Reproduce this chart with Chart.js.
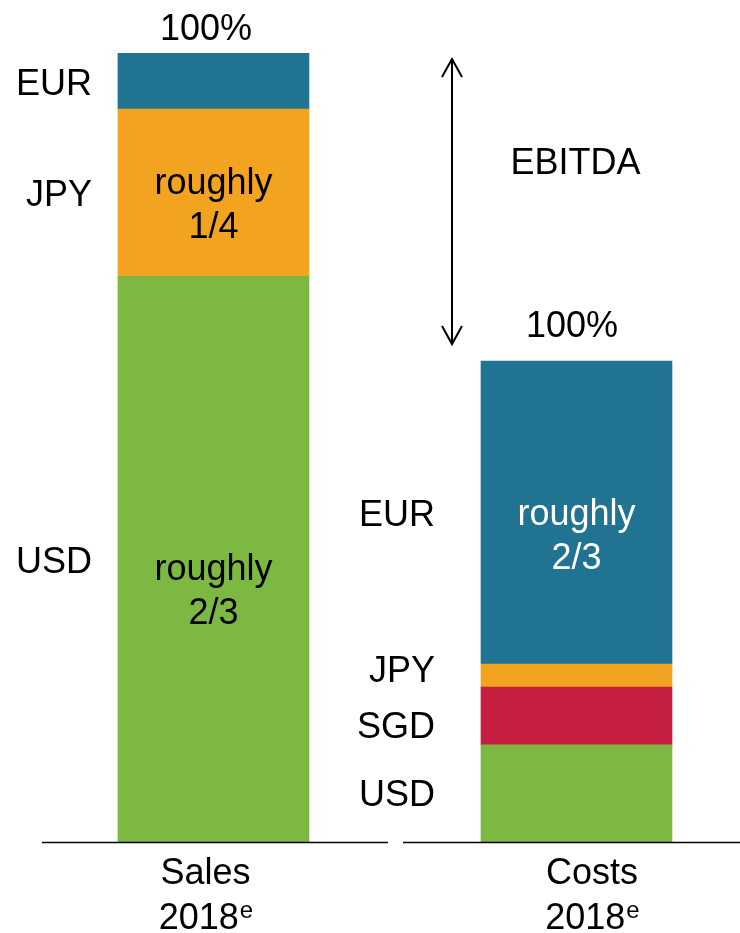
<!DOCTYPE html>
<html>
<head>
<meta charset="utf-8">
<script src="https://cdn.jsdelivr.net/npm/chart.js@4"></script>
<style>
  html, body { margin: 0; padding: 0; background: #fff; overflow: hidden; }
  #wrap { width: 740px; height: 933px; position: relative; }
</style>
</head>
<body>
<div id="wrap"><canvas id="fx"></canvas></div>
<script>
const categories = ["Sales", "Costs"];
const yearLabel = "2018";
const yearSup = "e";
const currencies = ["USD", "SGD", "JPY", "EUR"];

// share of sales (sales = 100)
const usd = [71.7, 12.3];
const sgd = [0, 7.35];
const jpy = [21.2, 2.9];
const eur = [7.1, 38.4];

const totalLabel = "100%";
const marginLabel = "EBITDA";

const colors = ["#7db843", "#c41f40", "#f2a31f", "#217491"];
const FONT = "36px 'Liberation Sans', Arial, sans-serif";

// text inside bars
const inside = [
    { ds: 2, cat: 0, lines: ["roughly", "1/4"], dy: 1.5, color: "#000" },
    { ds: 0, cat: 0, lines: ["roughly", "2/3"], dy: 21, color: "#000" },
    { ds: 3, cat: 1, lines: ["roughly", "2/3"], dy: 12.5, color: "#fff" }
];
// small vertical nudges for the currency names (USD, SGD, JPY, EUR)
const sideNudge = [[1, 0, 0, 1], [0, 9, -7, 0]];
const sideGap = [26, 46];

const series = [usd, sgd, jpy, eur];

const drawText = {
    id: "drawText",
    afterDraw(chart) {
        const ctx = chart.ctx;
        const area = chart.chartArea;
        const bar = (ds, cat) => chart.getDatasetMeta(ds).data[cat];
        ctx.save();
        ctx.font = FONT;
        ctx.fillStyle = "#000";
        ctx.textBaseline = "alphabetic";

        // currency names to the left of each segment
        ctx.textAlign = "right";
        series.forEach((vals, ds) => {
            vals.forEach((v, cat) => {
                if (!v) return;
                const b = bar(ds, cat);
                const mid = (b.y + b.base) / 2;
                ctx.fillText(currencies[ds], b.x - b.width / 2 - sideGap[cat], mid + sideNudge[cat][ds] + 13);
            });
        });

        // texts inside the bars
        ctx.textAlign = "center";
        inside.forEach(t => {
            const b = bar(t.ds, t.cat);
            const mid = (b.y + b.base) / 2;
            ctx.fillStyle = t.color;
            t.lines.forEach((ln, k) => ctx.fillText(ln, b.x, mid + t.dy + k * 44));
        });
        ctx.fillStyle = "#000";

        // 100% on top of each bar
        const top0 = bar(3, 0), top1 = bar(3, 1);
        ctx.fillText(totalLabel, top0.x - 7.5, top0.y - 13);
        ctx.fillText(totalLabel, top1.x - 4.5, top1.y - 24);

        // baselines
        const base = area.bottom + 0.5;
        ctx.strokeStyle = "#000";
        ctx.lineWidth = 1.5;
        ctx.beginPath();
        ctx.moveTo(top0.x - 171.5, base);
        ctx.lineTo(top0.x + 174.5, base);
        ctx.moveTo(top1.x - 173.5, base);
        ctx.lineTo(chart.width, base);
        ctx.stroke();

        // category labels below
        const dxs = [-8, 15.5];
        categories.forEach((c, cat) => {
            const b = bar(0, cat);
            const cx = b.x + dxs[cat];
            ctx.font = FONT;
            ctx.textAlign = "center";
            ctx.fillText(c, cx, base + 41);
            const w1 = ctx.measureText(yearLabel).width;
            ctx.font = "24px 'Liberation Sans', Arial, sans-serif";
            const w2 = ctx.measureText(yearSup).width;
            const x0 = cx - (w1 + w2) / 2;
            ctx.textAlign = "left";
            ctx.fillText(yearSup, x0 + w1 + 1, base + 75);
            ctx.font = FONT;
            ctx.fillText(yearLabel, x0, base + 86);
        });

        // EBITDA arrow
        const ax = top1.x - top1.width / 2 - 29;
        const ay1 = top0.y + 6, ay2 = top1.y - 17;
        ctx.lineWidth = 2;
        ctx.beginPath();
        ctx.moveTo(ax, ay1);
        ctx.lineTo(ax, ay2);
        ctx.moveTo(ax - 10, ay1 + 18);
        ctx.lineTo(ax, ay1);
        ctx.lineTo(ax + 10, ay1 + 18);
        ctx.moveTo(ax - 10, ay2 - 18);
        ctx.lineTo(ax, ay2);
        ctx.lineTo(ax + 10, ay2 - 18);
        ctx.stroke();

        ctx.font = FONT;
        ctx.textAlign = "center";
        ctx.fillText(marginLabel, top1.x - 1, area.top + 121);
        ctx.restore();
    }
};

const chart = new Chart(document.getElementById("fx"), {
    type: "bar",
    data: {
        datasets: series.map((vals, i) => ({
            label: currencies[i],
            data: vals.map((v, cat) => ({ x: cat, y: v })),
            backgroundColor: colors[i],
            borderWidth: 0,
            barThickness: 191
        }))
    },
    options: {
        responsive: true,
        maintainAspectRatio: false,
        animation: false,
        layout: { padding: { top: 53, bottom: 91, left: 0, right: 0 } },
        plugins: { legend: { display: false }, tooltip: { enabled: false } },
        scales: {
            x: { type: "linear", min: -0.588, max: 1.4504, offset: false, grid: { offset: false }, stacked: true, display: false },
            y: { stacked: true, min: 0, max: 100, display: false }
        }
    },
    plugins: [drawText]
});
</script>
</body>
</html>
